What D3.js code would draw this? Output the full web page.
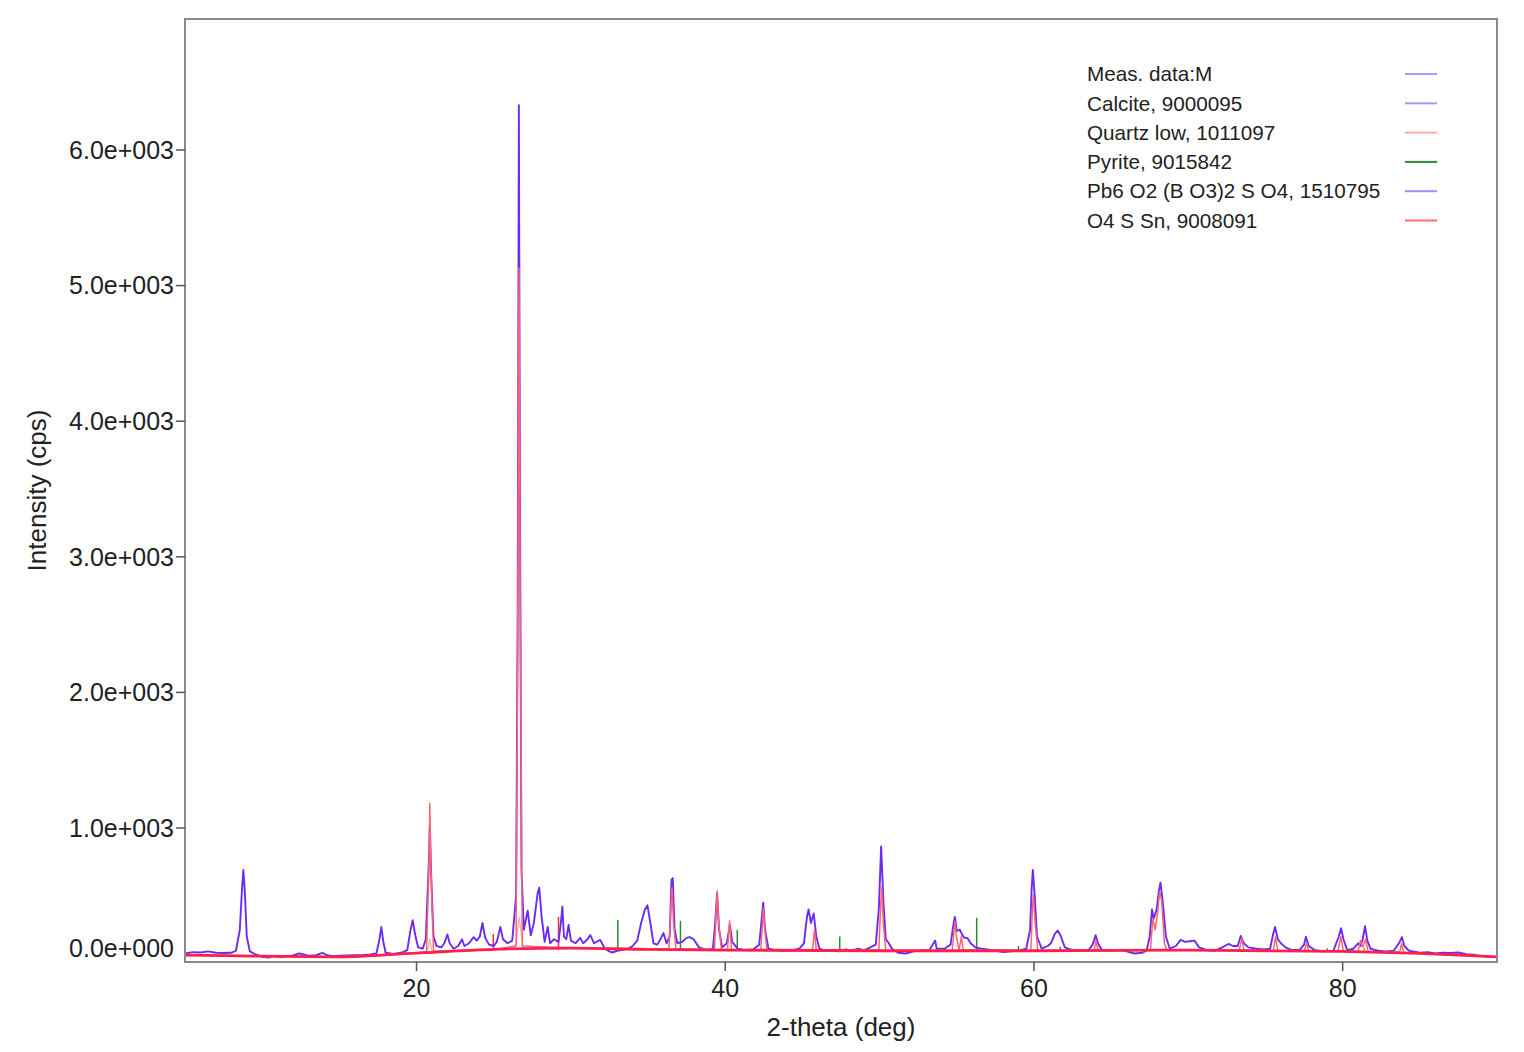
<!DOCTYPE html>
<html>
<head>
<meta charset="utf-8">
<script src="https://cdn.jsdelivr.net/npm/d3@7"></script>
<style>
  body { margin: 0; background: #fff; }
  text { font-family: "Liberation Sans", Arial, sans-serif; fill: #222; }
</style>
</head>
<body>
<div id="chart"></div>
<script>
// measured pattern [2theta, cps]
var measData = [
  [5.0,75],[5.5,85],[6.0,82],[6.5,90],[7.0,80],[7.5,78],[8.0,80],[8.3,95],[8.55,250],[8.7,560],[8.78,690],[8.88,520],[9.0,200],[9.2,90],[9.5,72],
  [10.0,50],[10.4,45],[10.8,55],[11.2,48],[11.6,55],[12.0,60],[12.4,75],[12.6,70],[13.0,58],[13.5,62],[13.9,80],[14.2,62],[14.6,55],[15.0,58],
  [15.5,60],[16.0,62],[16.5,64],[17.0,68],[17.4,75],[17.6,180],[17.72,270],[17.85,160],[18.0,80],[18.5,72],[19.0,80],[19.4,100],[19.6,240],
  [19.75,320],[19.9,220],[20.1,120],[20.4,110],[20.6,180],[20.8,760],[20.86,1005],[20.95,650],[21.1,200],[21.3,130],[21.6,120],[21.8,150],
  [22.0,215],[22.15,150],[22.4,110],[22.7,130],[22.95,180],[23.1,130],[23.4,150],[23.7,195],[23.9,170],[24.1,200],[24.27,300],[24.45,190],
  [24.7,140],[25.0,130],[25.2,160],[25.43,270],[25.6,180],[25.9,150],[26.2,170],[26.45,500],[26.55,2500],[26.63,6330],[26.7,3500],[26.8,700],
  [26.95,250],[27.2,390],[27.4,210],[27.6,300],[27.85,520],[27.95,560],[28.1,350],[28.3,160],[28.5,270],[28.65,150],[28.9,180],[29.2,160],
  [29.35,300],[29.45,420],[29.55,200],[29.7,180],[29.85,285],[30.0,170],[30.3,150],[30.6,190],[30.8,150],[31.0,170],[31.26,210],[31.5,150],
  [31.9,175],[32.2,110],[32.5,90],[32.7,82],[33.0,95],[33.3,100],[33.7,110],[34.0,130],[34.3,170],[34.55,300],[34.8,400],[34.96,430],
  [35.15,300],[35.35,150],[35.6,140],[35.8,180],[36.0,225],[36.2,150],[36.4,200],[36.52,620],[36.6,630],[36.72,250],[36.9,150],[37.2,160],
  [37.5,190],[37.7,196],[37.95,180],[38.3,120],[38.8,100],[39.2,110],[39.35,300],[39.47,520],[39.6,250],[39.8,120],[40.1,150],[40.3,285],
  [40.45,160],[40.8,110],[41.3,100],[41.8,105],[42.2,140],[42.38,350],[42.46,450],[42.58,250],[42.8,110],[43.3,100],[43.8,95],[44.3,100],
  [44.8,110],[45.1,150],[45.3,350],[45.4,400],[45.55,300],[45.73,370],[45.9,200],[46.1,110],[46.5,95],[47.0,100],[47.4,90],[47.8,105],
  [48.2,95],[48.6,110],[49.0,100],[49.4,120],[49.75,140],[49.95,400],[50.1,865],[50.25,450],[50.4,180],[50.6,150],[50.8,110],[51.2,80],
  [51.7,75],[52.2,90],[52.7,100],[53.2,95],[53.6,170],[53.7,110],[54.2,110],[54.6,140],[54.8,300],[54.88,345],[55.0,240],[55.2,250],
  [55.36,210],[55.5,190],[55.68,190],[55.9,150],[56.2,120],[56.6,110],[57.0,105],[57.5,95],[58.0,85],[58.5,90],[59.0,95],[59.5,110],
  [59.75,250],[59.85,550],[59.93,690],[60.05,500],[60.2,200],[60.5,110],[60.9,130],[61.1,150],[61.35,220],[61.55,245],[61.75,200],[62.0,120],
  [62.5,100],[63.0,100],[63.5,95],[63.8,140],[64.0,210],[64.15,150],[64.4,100],[65.0,95],[65.5,100],[66.0,90],[66.5,75],[67.0,80],[67.3,95],
  [67.5,200],[67.65,400],[67.75,330],[67.95,400],[68.1,540],[68.2,597],[68.35,450],[68.55,200],[68.8,110],[69.2,130],[69.5,175],[69.8,160],
  [70.1,165],[70.4,170],[70.7,120],[71.2,100],[71.7,95],[72.2,120],[72.6,145],[72.9,130],[73.2,130],[73.4,204],[73.6,150],[73.9,120],
  [74.4,110],[74.9,105],[75.3,110],[75.5,220],[75.62,270],[75.8,180],[76.0,150],[76.3,120],[76.7,100],[77.2,100],[77.5,140],[77.62,198],
  [77.8,130],[78.2,100],[78.8,90],[79.4,95],[79.75,200],[79.9,262],[80.05,180],[80.3,100],[80.7,110],[81.0,150],[81.15,130],[81.3,180],
  [81.45,277],[81.6,170],[81.8,110],[82.3,95],[82.8,90],[83.3,95],[83.65,150],[83.84,196],[84.0,130],[84.3,95],[85.0,80],[85.5,85],
  [86.0,75],[86.5,80],[87.0,78],[87.5,82],[88.0,70],[88.5,65],[89.0,55],[89.5,50],[90.0,48]
];

// background curve
var bgData = [
  [5,63],[10,55],[15,50],[20,78],[25,105],[30,115],[35,105],[40,100],[50,95],[60,95],[70,100],[80,90],[85,75],[90,50]
];

// O4 S Sn calc profile
var sn04Data = [
  [5,63],[10,55],[15,50],[20,78],[20.65,90],[20.8,700],[20.86,1180],[20.93,700],[21.1,92],[25,105],[26.45,130],[26.56,2600],[26.64,5130],
  [26.72,2600],[26.85,130],[30,115],[35,105],[36.35,110],[36.48,400],[36.55,560],[36.65,300],[36.8,110],[39.3,105],[39.42,380],[39.48,535],
  [39.58,300],[39.75,105],[40.15,105],[40.28,314],[40.4,105],[42.3,100],[42.42,300],[42.47,410],[42.56,250],[42.7,100],[45.65,100],
  [45.78,250],[45.9,100],[49.95,100],[50.06,400],[50.14,565],[50.24,300],[50.4,95],[54.7,95],[54.83,250],[54.88,309],[54.98,200],
  [55.15,100],[55.3,200],[55.42,100],[59.8,95],[59.9,400],[59.96,506],[60.08,300],[60.25,95],[63.9,95],[64.02,174],[64.15,95],[67.55,100],
  [67.7,336],[67.85,250],[68.02,380],[68.14,530],[68.28,460],[68.45,150],[68.6,100],[73.3,100],[73.47,190],[73.6,100],[75.5,95],
  [75.66,196],[75.8,95],[77.5,92],[77.67,150],[77.8,92],[79.7,90],[79.88,200],[80.05,90],[81.0,90],[81.15,170],[81.3,120],[81.48,180],
  [81.65,90],[83.7,85],[83.82,150],[83.95,82],[85,75],[90,50]
];

// quartz low calc profile (faint)
var quartzData = [
  [20,78],[20.7,85],[20.86,180],[21.0,88],[26.4,110],[26.65,344],[26.9,112],[30,115]
];

// pyrite sticks [2theta, top cps]
var pyriteSticks = [[33.04,322],[37.1,316],[40.78,248],[47.42,200],[56.29,338],[59.0,130],[61.7,125],[64.3,115],[79.0,112],[81.4,112]];
// red reference sticks
var redSticks = [[24.97,218],[29.2,344]];
var stickBase = 100;

// legend entries
var legendNames = ["Meas. data:M", "Calcite, 9000095", "Quartz low, 1011097", "Pyrite, 9015842", "Pb6 O2 (B O3)2 S O4, 1510795", "O4 S Sn, 9008091"];
var legendColors = ["#a89aff", "#9c9cff", "#ffaaaa", "#2e8b2e", "#a08cff", "#ff7070"];

var xTicks = [20, 40, 60, 80];
var yTicks = [0, 1000, 2000, 3000, 4000, 5000, 6000];

var margin = {top: 19, right: 27, bottom: 90, left: 185};
var width = 1524, height = 1052;

var svg = d3.select("#chart").append("svg")
    .attr("width", width)
    .attr("height", height);

var x = d3.scaleLinear().domain([5, 90]).range([margin.left, width - margin.right]);
var y = d3.scaleLinear().domain([12, 6966]).range([height - margin.bottom, margin.top]);

svg.append("clipPath").attr("id", "clip")
    .append("rect")
    .attr("x", margin.left).attr("y", margin.top)
    .attr("width", width - margin.right - margin.left)
    .attr("height", height - margin.bottom - margin.top);

var line = d3.line().x(d => x(d[0])).y(d => y(d[1]));

var plot = svg.append("g").attr("clip-path", "url(#clip)");

//sticks
plot.selectAll(".pyr").data(pyriteSticks).enter().append("line")
    .attr("x1", d => x(d[0])).attr("x2", d => x(d[0]))
    .attr("y1", y(stickBase)).attr("y2", d => y(d[1]))
    .attr("stroke", "#2e8b2e").attr("stroke-width", 1.5);

plot.selectAll(".rst").data(redSticks).enter().append("line")
    .attr("x1", d => x(d[0])).attr("x2", d => x(d[0]))
    .attr("y1", y(stickBase)).attr("y2", d => y(d[1]))
    .attr("stroke", "#ff2a3a").attr("stroke-width", 1.5);

// lines
plot.append("path").datum(measData)
    .attr("d", line).attr("fill", "none")
    .attr("stroke", "#6a2cf2").attr("stroke-width", 1.9).attr("stroke-linejoin", "round");

plot.append("path").datum(quartzData)
    .attr("d", line).attr("fill", "none")
    .attr("stroke", "#ffb0b0").attr("stroke-width", 1.3);

plot.append("path").datum(sn04Data)
    .attr("d", line).attr("fill", "none")
    .attr("stroke", "#ff6275").attr("stroke-width", 1.5).attr("stroke-linejoin", "round");

plot.append("path").datum(bgData)
    .attr("d", d3.line().curve(d3.curveMonotoneX).x(d => x(d[0])).y(d => y(d[1])))
    .attr("fill", "none")
    .attr("stroke", "#ff1f4c").attr("stroke-width", 2.8);

// frame
svg.append("rect")
    .attr("x", margin.left).attr("y", margin.top)
    .attr("width", width - margin.right - margin.left)
    .attr("height", height - margin.bottom - margin.top)
    .attr("fill", "none").attr("stroke", "#8a8a8a").attr("stroke-width", 2);

// x ticks
var xg = svg.append("g");
xg.selectAll("line").data(xTicks).enter().append("line")
    .attr("x1", d => x(d)).attr("x2", d => x(d))
    .attr("y1", height - margin.bottom).attr("y2", height - margin.bottom + 9)
    .attr("stroke", "#555").attr("stroke-width", 1.5);
xg.selectAll("text").data(xTicks).enter().append("text")
    .attr("x", d => x(d)).attr("y", height - margin.bottom + 35)
    .attr("text-anchor", "middle").attr("font-size", "25px")
    .text(d => d);

// y ticks
var yg = svg.append("g");
yg.selectAll("line").data(yTicks.filter(d => d > 0)).enter().append("line")
    .attr("x1", margin.left - 9).attr("x2", margin.left)
    .attr("y1", d => y(d)).attr("y2", d => y(d))
    .attr("stroke", "#555").attr("stroke-width", 1.5);
yg.selectAll("text").data(yTicks).enter().append("text")
    .attr("x", margin.left - 11)
    .attr("y", d => d === 0 ? y(d) - 15 : y(d))
    .attr("dy", "0.35em")
    .attr("text-anchor", "end").attr("font-size", "25px")
    .text(d => d3.format(".1e")(d).replace(/e([+-])(\d+)/, (m, s, n) => "e" + s + n.padStart(3, "0")));

// axis titles
svg.append("text")
    .attr("x", (margin.left + width - margin.right) / 2).attr("y", 1036)
    .attr("text-anchor", "middle").attr("font-size", "26px")
    .text("2-theta (deg)");
svg.append("text")
    .attr("transform", "translate(46," + (height - margin.bottom + margin.top) / 2 + ") rotate(-90)")
    .attr("text-anchor", "middle").attr("font-size", "26px")
    .text("Intensity (cps)");

// legend
var lg = svg.append("g");
legendNames.forEach((name, i) => {
    var ly = 74 + i * 29.3;
    lg.append("text").attr("x", 1087).attr("y", ly).attr("dy", "0.35em")
        .attr("font-size", "20.7px").text(name);
    lg.append("line").attr("x1", 1405).attr("x2", 1437).attr("y1", ly).attr("y2", ly)
        .attr("stroke", legendColors[i]).attr("stroke-width", 2);
});
</script>
</body>
</html>
